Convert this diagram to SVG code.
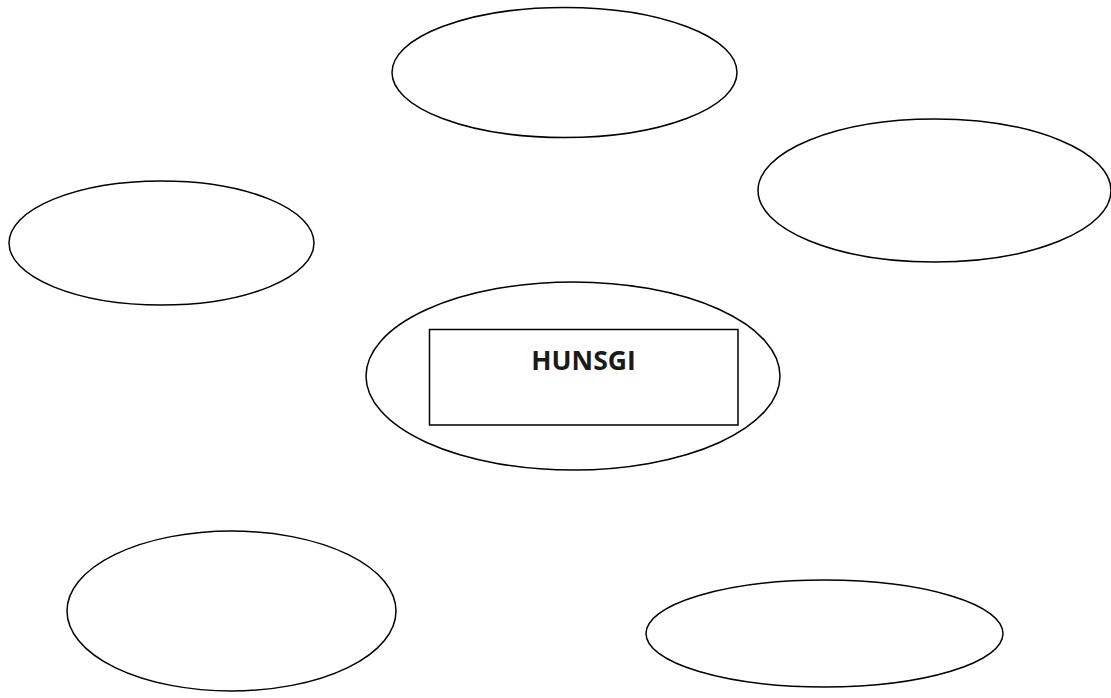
<svg xmlns="http://www.w3.org/2000/svg" width="1111" height="698" viewBox="0 0 1111 698">
<style>
.n{fill:none;stroke:#000;stroke-width:1.5}
.t{font-family:"Open Sans","Noto Sans",sans-serif;font-weight:bold;font-size:26.5px;fill:#1a1a1a;text-anchor:middle}
</style>
<rect width="1111" height="698" fill="#fff"/>
<g id="top"><ellipse class="n" cx="564.5" cy="72.5" rx="172.5" ry="65"/></g>
<g id="right"><ellipse class="n" cx="934.5" cy="190.5" rx="176.5" ry="71.5"/></g>
<g id="left"><ellipse class="n" cx="161.5" cy="243" rx="152.5" ry="62"/></g>
<g id="center"><ellipse class="n" cx="573" cy="376" rx="207" ry="94"/>
<rect class="n" x="429.5" y="329.5" width="308.5" height="95.5"/>
<text class="t" x="583.5" y="370">HUNSGI</text></g>
<g id="bottom-left"><ellipse class="n" cx="231.5" cy="611" rx="164.5" ry="80"/></g>
<g id="bottom-right"><ellipse class="n" cx="824.5" cy="633.5" rx="178.5" ry="53.5"/></g>
<g id="connectors"></g>
</svg>
